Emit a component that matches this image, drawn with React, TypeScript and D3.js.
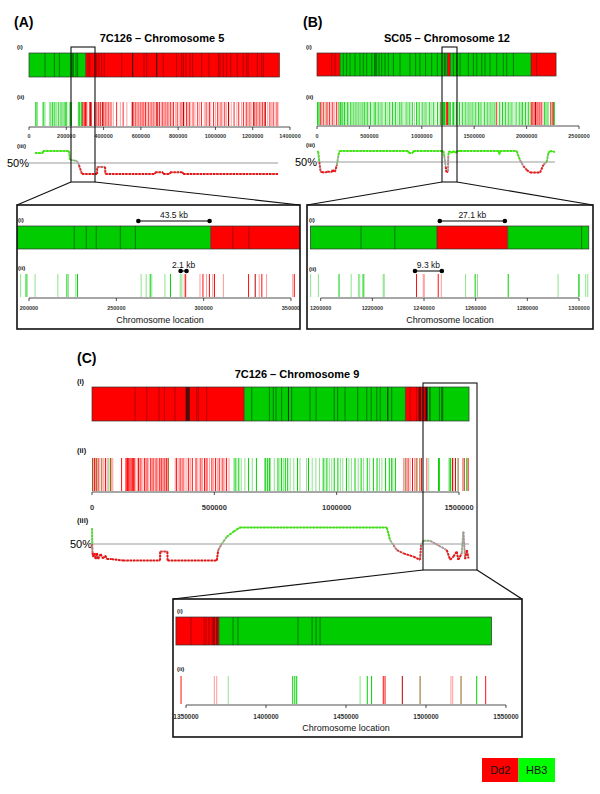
import React from 'react';
import * as d3 from 'd3';

// ---------------- Chromosome 5 (7C126) ----------------
const chr5Breaks = [0, 304000, 1343000];
const chr5Parents = ['HB3', 'Dd2'];
const chr5Dark = [86, 136, 163, 225.9, 232.8, 238.5, 252.3, 260.9, 316.7, 325.9, 363, 375, 390, 404, 497, 617, 631, 720, 792, 819, 828, 842, 864, 878, 926, 965, 1016, 1024, 1042, 1060, 1082, 1117, 1149, 1168, 1176, 1225, 1248, 1257];
const chr5Black = [556, 685];
const chr5SnpGreen = [36, 43, 79, 113, 127, 139, 157, 172, 188, 198.3, 221.7, 227.8, 269.4, 281.0];
const chr5SnpGreenLight = [73, 86, 122, 134, 148, 166, 180, 195.2, 199.0, 203.5, 216.5, 222.6, 226.8, 264.2, 267.1, 270.3, 277.8, 286.6, 287.5];
const chr5SnpRed = [289.7, 299.6, 303.3, 306.2, 325.7, 333.3, 351.9, 360, 372, 384, 398, 412, 425, 440, 470, 505, 556, 570, 585, 600, 612, 625, 640, 655, 670, 686, 700, 715, 730, 745, 760, 775, 795, 815, 828, 845, 860, 880, 905, 925, 950, 968, 990, 1012, 1030, 1050, 1070, 1100, 1125, 1150, 1168, 1185, 1205, 1222, 1238, 1252, 1268, 1292, 1310, 1330];
const chr5SnpRedLight = [288.9, 297.9, 301.6, 305.2, 311.3, 331.8, 336.0, 351.0, 366, 378, 392, 405, 418, 433, 452, 490, 525, 550, 562, 577, 592, 607, 618, 632, 648, 663, 680, 693, 708, 722, 738, 752, 768, 785, 805, 822, 836, 852, 868, 890, 915, 940, 960, 975, 1000, 1020, 1040, 1060, 1085, 1115, 1140, 1160, 1176, 1195, 1215, 1230, 1245, 1260, 1280, 1300, 1320, 1336];
const chr5SnpRedDark = [329.5, 395, 557, 687, 829, 1071, 1207, 1266];
const chr5FreqPos = [32, 75, 75, 215, 220, 257, 268, 284, 365, 366, 408, 410, 676, 677, 719, 720, 756, 757, 826, 827, 1336];
const chr5FreqPct = [88, 88, 96, 96, 62, 58, 42, 8, 8, 35, 35, 8, 8, 14, 14, 8, 8, 14, 14, 8, 8];
const chr5AxisTicks = [0, 200000, 400000, 600000, 800000, 1000000, 1200000, 1400000];
const chr5ZoomTicks = [200000, 250000, 300000, 350000];
const chr5ZoomWindow = [192500, 355500];

// ---------------- Chromosome 12 (SC05) ----------------
const chr12Breaks = [0, 219000, 1245000, 1272400, 2042000, 2281000];
const chr12Parents = ['Dd2', 'HB3', 'Dd2', 'HB3', 'Dd2'];
const chr12Dark = [140, 172, 251, 283, 315, 363, 410, 442, 474, 522, 569, 592, 617, 649, 681, 729, 792, 887, 941, 982, 1036, 1094, 1148, 1215.6, 1228.7, 1301, 1333, 1365, 1444, 1492, 1524, 1572, 1603, 1651, 1715, 1778, 1810, 1874, 2096];
const chr12Black = [553];
const chr12SnpGreen = [5, 20, 210, 225, 240, 262, 290, 318, 345, 372, 400, 430, 455, 480, 510, 545, 560, 590, 620, 655, 690, 720, 750, 785, 810, 850, 880, 910, 950, 975, 1010, 1040, 1075, 1110, 1150, 1180, 1207.1, 1216.4, 1259.8, 1272.6, 1300, 1330, 1360, 1390, 1420, 1450, 1480, 1510, 1540, 1565, 1600, 1630, 1660, 1690, 1740, 1770, 1800, 1830, 1860, 1900, 1935, 1960, 1990, 2020, 2170, 2195, 2265];
const chr12SnpGreenLight = [12, 85, 230, 250, 275, 300, 330, 360, 385, 415, 442, 468, 495, 525, 575, 605, 640, 670, 705, 735, 765, 798, 830, 865, 895, 930, 962, 995, 1025, 1060, 1090, 1125, 1165, 1196.1, 1199.1, 1211.8, 1214.6, 1215.1, 1216.8, 1224.2, 1224.6, 1256.1, 1260.7, 1291.9, 1299.9, 1302.6, 1303.4, 1315, 1345, 1375, 1405, 1435, 1465, 1495, 1525, 1552, 1585, 1615, 1645, 1675, 1705, 1755, 1785, 1815, 1845, 1880, 1920, 1950, 1975, 2005, 2035, 2180, 2210, 2240];
const chr12SnpRed = [35, 60, 95, 120, 150, 185, 1237.1, 1245.5, 1715, 2045, 2060, 2080, 2100, 2120, 2140, 2230, 2255];
const chr12SnpRedLight = [45, 75, 105, 135, 165, 200, 1183, 1239.7, 1240.1, 1246.7, 2052, 2070, 2090, 2110, 2130, 2155];
const chr12SnpRedDark = [2085];
const chr12SnpMixed = [2250];
const chr12FreqPos = [3, 12, 22, 35, 45, 80, 100, 140, 150, 170, 190, 205, 215, 870, 875, 915, 920, 1205, 1215, 1228, 1235, 1250, 1253, 1260, 1285, 1300, 1320, 1340, 1365, 1735, 1740, 1745, 1905, 1937, 1969, 2001, 2033, 2128, 2160, 2192, 2208, 2224, 2271];
const chr12FreqPct = [96, 92, 50, 8, 8, 6, 10, 8, 17, 8, 38, 79, 96, 96, 88, 88, 96, 96, 75, 30, 8, 10, 79, 96, 88, 96, 88, 96, 96, 96, 82, 96, 96, 58, 33, 17, 6, 6, 38, 50, 88, 96, 92];
const chr12AxisTicks = [0, 500000, 1000000, 1500000, 2000000, 2500000];
const chr12ZoomTicks = [1200000, 1220000, 1240000, 1260000, 1280000, 1300000];
const chr12ZoomWindow = [1196000, 1303800];

// ---------------- Chromosome 9 (7C126) ----------------
const chr9Breaks = [0, 622000, 1281000, 1370600, 1541000];
const chr9Parents = ['Dd2', 'HB3', 'Dd2', 'HB3'];
const chr9Dark = [176, 224, 274, 296, 339, 428, 435, 469, 653, 725, 741, 752, 775, 816, 891, 916, 990, 1004, 1034, 1086, 1123, 1141, 1164, 1178, 1225, 1300, 1327, 1353.1, 1361.3, 1362.5, 1364.4, 1366.3, 1379.4, 1382.5, 1420, 1428.8, 1431.3, 1433.8];
const chr9Black = [385, 389, 393, 397, 803, 1209, 1337, 1342, 1367.5, 1369.4];
const chr9SnpGreen = [585, 600, 640, 672, 710, 718, 725, 760, 775, 790, 800, 840, 885, 945, 960, 990, 1005, 1040, 1075, 1100, 1125, 1150, 1165, 1200, 1215, 1225, 1240, 1416.7, 1418, 1419.2, 1463.3, 1466, 1531.7];
const chr9SnpGreenLight = [68, 80, 580, 592, 610, 625, 655, 705, 730, 745, 768, 782, 810, 825, 850, 877, 900, 915, 930, 952, 970, 980, 1015, 1025, 1050, 1060, 1088, 1110, 1135, 1175, 1185, 1230, 1376.4, 1458.8];
const chr9SnpRed = [10, 25, 55, 75, 121, 140, 145, 150, 155, 160, 165, 170, 175, 190, 200, 215, 225, 240, 250, 262, 275, 285, 295, 305, 345, 360, 372, 395, 410, 425, 445, 460, 470, 490, 505, 520, 535, 550, 1292, 1310, 1346.9, 1473.3, 1474.4, 1537.3];
const chr9SnpRedLight = [5, 15, 32, 48, 62, 85, 137, 147, 185, 195, 208, 220, 232, 245, 257, 268, 280, 290, 300, 310, 340, 352, 365, 380, 388, 402, 430, 438, 452, 465, 480, 497, 512, 528, 543, 560, 1273, 1285, 1300, 1318, 1330, 1367.7, 1369.2, 1515.6, 1516.7];
const chr9SnpRedDark = [1485.2];
const chr9SnpMixed = [2, 18, 40, 312, 1280, 1325, 1340, 1496.3, 1521.9];
const chr9FreqPos = [0, 1, 2, 5, 10, 15, 20, 25, 35, 45, 55, 60, 80, 127, 278, 279, 308, 309, 510, 516, 530, 551, 578, 605, 1205, 1218, 1232, 1246, 1273, 1314, 1341, 1345, 1354, 1382, 1450, 1464, 1477, 1491, 1497, 1511, 1518, 1525, 1532, 1539];
const chr9FreqPct = [94, 50, 25, 14, 25, 8, 25, 8, 22, 10, 18, 8, 8, 4, 4, 29, 29, 4, 4, 33, 50, 70, 84, 96, 96, 61, 47, 33, 24, 15, 6, 47, 59, 59, 33, 6, 15, 29, 6, 24, 84, 8, 33, 10];
const chr9AxisTicks = [0, 500000, 1000000, 1500000];
const chr9ZoomTicks = [1350000, 1400000, 1450000, 1500000, 1550000];
const chr9ZoomWindow = [1343700, 1541000];

const legendLabels = ['Dd2', 'HB3'];

// ---------------- styles ----------------
const FONT = '"Liberation Sans", Arial, Helvetica, sans-serif';
const GREEN = '#00cc00';
const RED = '#ff0000';
const parentColor = (p: string) => (p === 'Dd2' ? RED : GREEN);
const darkColor = (p: string) => (p === 'Dd2' ? '#a00000' : '#006400');

type Scale = d3.ScaleLinear<number, number>;

function parentAt(pos: number, breaks: number[], parents: string[]) {
  for (let i = 0; i < parents.length; i++) {
    if (pos >= breaks[i] && pos < breaks[i + 1]) return parents[i];
  }
  return parents[parents.length - 1];
}

function Bar(props: { sx: Scale; y: number; h: number; breaks: number[]; parents: string[]; dark: number[]; black: number[]; lo: number; hi: number }) {
  const { sx, y, h, breaks, parents, dark, black, lo, hi } = props;
  const a = Math.max(breaks[0], lo);
  const b = Math.min(breaks[breaks.length - 1], hi);
  const inside = (k: number) => k * 1000 > a && k * 1000 < b;
  return (
    <g>
      {parents.map((p, i) => {
        const f = Math.max(breaks[i], a);
        const t = Math.min(breaks[i + 1], b);
        if (t <= f) return null;
        return <rect key={'s' + i} x={sx(f)} y={y} width={sx(t) - sx(f)} height={h} fill={parentColor(p)} />;
      })}
      {dark.filter(inside).map((k, i) => (
        <line key={'d' + i} x1={sx(k * 1000)} x2={sx(k * 1000)} y1={y} y2={y + h} stroke={darkColor(parentAt(k * 1000, breaks, parents))} strokeWidth={0.8} />
      ))}
      {black.filter(inside).map((k, i) => (
        <line key={'b' + i} x1={sx(k * 1000)} x2={sx(k * 1000)} y1={y} y2={y + h} stroke="#111" strokeWidth={0.9} />
      ))}
      {breaks.slice(1, -1).filter((v) => v > a && v < b).map((v, i) => (
        <line key={'k' + i} x1={sx(v)} x2={sx(v)} y1={y} y2={y + h} stroke="#333" strokeWidth={0.7} />
      ))}
      <rect x={sx(a)} y={y} width={sx(b) - sx(a)} height={h} fill="none" stroke="#333" strokeWidth={0.7} />
    </g>
  );
}

const TICK_STYLE: Record<string, [string, number]> = {
  G: ['#00d000', 1],
  g: ['#00c000', 0.45],
  R: ['#ff0000', 0.95],
  r: ['#ff0000', 0.4],
  D: ['#b00000', 1],
  B: ['#8a5c10', 0.95],
};

function Ticks(props: { sx: Scale; y0: number; y1: number; lo: number; hi: number; sets: [string, number[]][]; w: number }) {
  const { sx, y0, y1, lo, hi, sets, w } = props;
  return (
    <g>
      {sets.map(([cls, arr]) =>
        arr
          .filter((k) => k * 1000 >= lo && k * 1000 <= hi)
          .map((k, i) => (
            <line key={cls + i} x1={sx(k * 1000)} x2={sx(k * 1000)} y1={y0} y2={y1} stroke={TICK_STYLE[cls][0]} strokeOpacity={TICK_STYLE[cls][1]} strokeWidth={w} />
          ))
      )}
    </g>
  );
}

function freqColor(p: number) {
  if (p >= 50) return d3.interpolateRgb('#a8a8a8', '#33ee00')(Math.min(1, (p - 50) / 30));
  return d3.interpolateRgb('#a8a8a8', '#ee1111')(Math.min(1, (50 - p) / 30));
}

function Freq(props: { sx: Scale; sy: Scale; pos: number[]; pct: number[]; x0: number; x1: number }) {
  const { sx, sy, pos, pct, x0, x1 } = props;
  const pts: [number, number][] = pos.map((k, i) => [sx(k * 1000), sy(pct[i])]);
  const line = d3.line();
  return (
    <g>
      <line x1={x0} x2={x1} y1={sy(50)} y2={sy(50)} stroke="#9a9a9a" strokeWidth={1} />
      <path d={line(pts) || ''} fill="none" stroke="#555" strokeWidth={0.6} />
      {pts.slice(1).map((p, i) => {
        const q = pts[i];
        return (
          <line key={i} x1={q[0]} y1={q[1]} x2={p[0]} y2={p[1]} stroke={freqColor((pct[i] + pct[i + 1]) / 2)} strokeWidth={2} strokeDasharray="2.4 0.9" />
        );
      })}
    </g>
  );
}

function Axis(props: { sx: Scale; y: number; ticks: number[]; fs: number; ly: number; weight?: string }) {
  const { sx, y, ticks, fs, ly, weight } = props;
  return (
    <g>
      <line x1={sx(ticks[0])} x2={sx(ticks[ticks.length - 1])} y1={y} y2={y} stroke="#222" strokeWidth={0.8} />
      {ticks.map((t, i) => (
        <g key={i}>
          <line x1={sx(t)} x2={sx(t)} y1={y} y2={y + 3} stroke="#222" strokeWidth={0.8} />
          <text x={sx(t)} y={ly} fontSize={fs} textAnchor="middle" fontWeight={weight || 'bold'} fill="#333">{t}</text>
        </g>
      ))}
    </g>
  );
}

function Span(props: { sx: Scale; from: number; to: number; y: number; label: string }) {
  const { sx, from, to, y, label } = props;
  return (
    <g>
      <line x1={sx(from)} x2={sx(to)} y1={y} y2={y} stroke="#000" strokeWidth={1} />
      <circle cx={sx(from)} cy={y} r={2.3} fill="#000" />
      <circle cx={sx(to)} cy={y} r={2.3} fill="#000" />
      <text x={(sx(from) + sx(to)) / 2} y={y - 3.5} fontSize={8.5} textAnchor="middle" fill="#111">{label}</text>
    </g>
  );
}

const Lab = (p: { x: number; y: number; t: string; fs?: number }) => (
  <text x={p.x} y={p.y} fontSize={p.fs || 6} fontWeight="bold" fill="#111">{p.t}</text>
);

export default function App() {
  // Panel A
  const sxA = d3.scaleLinear().domain([0, 1400000]).range([29, 290]);
  const syA = d3.scaleLinear().domain([0, 100]).range([176, 150]);
  const sxZA = d3.scaleLinear().domain([200000, 350000]).range([29, 291]);
  // Panel B
  const sxB = d3.scaleLinear().domain([0, 2500000]).range([317, 579]);
  const syB = d3.scaleLinear().domain([0, 100]).range([174, 150]);
  const sxZB = d3.scaleLinear().domain([1200000, 1300000]).range([320.7, 579]);
  // Panel C
  const sxC = d3.scaleLinear().domain([0, 1500000]).range([92, 459]);
  const syC = d3.scaleLinear().domain([0, 100]).range([562, 526]);
  const sxZC = d3.scaleLinear().domain([1350000, 1550000]).range([186, 506]);

  const setsA: [string, number[]][] = [['g', chr5SnpGreenLight], ['G', chr5SnpGreen], ['r', chr5SnpRedLight], ['R', chr5SnpRed], ['D', chr5SnpRedDark]];
  const setsB: [string, number[]][] = [['g', chr12SnpGreenLight], ['G', chr12SnpGreen], ['r', chr12SnpRedLight], ['R', chr12SnpRed], ['D', chr12SnpRedDark], ['B', chr12SnpMixed]];
  const setsC: [string, number[]][] = [['g', chr9SnpGreenLight], ['G', chr9SnpGreen], ['r', chr9SnpRedLight], ['R', chr9SnpRed], ['D', chr9SnpRedDark], ['B', chr9SnpMixed]];

  return (
    <svg width={600} height={794} style={{ position: 'absolute', left: 0, top: 0, background: '#fff' }} fontFamily={FONT}>
      <defs>
        <clipPath id="clipZA"><rect x={17} y={205} width={283} height={124} /></clipPath>
        <clipPath id="clipZB"><rect x={307} y={205} width={286} height={124} /></clipPath>
        <clipPath id="clipZC"><rect x={173} y={599} width={349} height={138} /></clipPath>
      </defs>
      <rect x={0} y={0} width={600} height={794} fill="#fff" />

      {/* ===== Panel A ===== */}
      <text x={14} y={27} fontSize={14} fontWeight="bold">(A)</text>
      <text x={162} y={42} fontSize={11} fontWeight="bold" textAnchor="middle">7C126 – Chromosome 5</text>
      <Lab x={17} y={49} t="(i)" />
      <Bar sx={sxA} y={53} h={24} breaks={chr5Breaks} parents={chr5Parents} dark={chr5Dark} black={chr5Black} lo={0} hi={Infinity} />
      <Lab x={17} y={99} t="(ii)" />
      <Ticks sx={sxA} y0={102} y1={126} lo={0} hi={Infinity} sets={setsA} w={0.9} />
      <Axis sx={sxA} y={127} ticks={chr5AxisTicks} fs={5.5} ly={138} />
      <Lab x={17} y={148} t="(iii)" />
      <text x={29} y={167} fontSize={11} textAnchor="end">50%</text>
      <Freq sx={sxA} sy={syA} pos={chr5FreqPos} pct={chr5FreqPct} x0={29} x1={278} />
      <rect x={71} y={47} width={24} height={135} fill="none" stroke="#111" strokeWidth={1.1} />
      <line x1={71} y1={182} x2={17} y2={205} stroke="#111" strokeWidth={1.1} />
      <line x1={95} y1={182} x2={300} y2={205} stroke="#111" strokeWidth={1.1} />

      {/* Zoom A */}
      <g clipPath="url(#clipZA)">
        <Lab x={18} y={222} t="(i)" />
        <Bar sx={sxZA} y={226} h={23} breaks={chr5Breaks} parents={chr5Parents} dark={chr5Dark} black={chr5Black} lo={chr5ZoomWindow[0]} hi={chr5ZoomWindow[1]} />
        <Span sx={sxZA} from={262600} to={303400} y={221} label="43.5 kb" />
        <Lab x={18} y={270} t="(ii)" />
        <Span sx={sxZA} from={286800} to={290200} y={271} label="2.1 kb" />
        <Ticks sx={sxZA} y0={274} y1={297} lo={chr5ZoomWindow[0]} hi={chr5ZoomWindow[1]} sets={setsA} w={1} />
        <Axis sx={sxZA} y={298} ticks={chr5ZoomTicks} fs={5.5} ly={310} />
        <text x={160} y={323} fontSize={9} textAnchor="middle" fill="#111">Chromosome location</text>
      </g>
      <rect x={17} y={205} width={283} height={124} fill="none" stroke="#111" strokeWidth={1.6} />

      {/* ===== Panel B ===== */}
      <text x={303} y={27} fontSize={14} fontWeight="bold">(B)</text>
      <text x={447} y={42} fontSize={11} fontWeight="bold" textAnchor="middle">SC05 – Chromosome 12</text>
      <Lab x={306} y={49} t="(i)" />
      <Bar sx={sxB} y={53} h={23} breaks={chr12Breaks} parents={chr12Parents} dark={chr12Dark} black={chr12Black} lo={0} hi={Infinity} />
      <Lab x={306} y={99} t="(ii)" />
      <Ticks sx={sxB} y0={102} y1={125} lo={0} hi={Infinity} sets={setsB} w={0.9} />
      <Axis sx={sxB} y={126} ticks={chr12AxisTicks} fs={5.5} ly={138} />
      <Lab x={306} y={147} t="(iii)" />
      <text x={317} y={166} fontSize={11} textAnchor="end">50%</text>
      <Freq sx={sxB} sy={syB} pos={chr12FreqPos} pct={chr12FreqPct} x0={317} x1={555} />
      <rect x={442} y={47} width={15} height={135} fill="none" stroke="#111" strokeWidth={1.1} />
      <line x1={442} y1={182} x2={307} y2={205} stroke="#111" strokeWidth={1.1} />
      <line x1={457} y1={182} x2={593} y2={205} stroke="#111" strokeWidth={1.1} />

      {/* Zoom B */}
      <g clipPath="url(#clipZB)">
        <Lab x={309} y={222} t="(i)" />
        <Bar sx={sxZB} y={226} h={23} breaks={chr12Breaks} parents={chr12Parents} dark={chr12Dark} black={chr12Black} lo={chr12ZoomWindow[0]} hi={chr12ZoomWindow[1]} />
        <Span sx={sxZB} from={1246100} to={1271300} y={221} label="27.1 kb" />
        <Lab x={309} y={271} t="(ii)" />
        <Span sx={sxZB} from={1236500} to={1246900} y={271} label="9.3 kb" />
        <Ticks sx={sxZB} y0={274} y1={297} lo={chr12ZoomWindow[0]} hi={chr12ZoomWindow[1]} sets={setsB} w={1} />
        <Axis sx={sxZB} y={298} ticks={chr12ZoomTicks} fs={5.5} ly={310} />
        <text x={450} y={323} fontSize={9} textAnchor="middle" fill="#111">Chromosome location</text>
      </g>
      <rect x={307} y={205} width={286} height={124} fill="none" stroke="#111" strokeWidth={1.6} />

      {/* ===== Panel C ===== */}
      <text x={77} y={363} fontSize={14} fontWeight="bold">(C)</text>
      <text x={297} y={378} fontSize={11} fontWeight="bold" textAnchor="middle">7C126 – Chromosome 9</text>
      <Lab x={77} y={384} t="(i)" fs={7.5} />
      <Bar sx={sxC} y={387} h={34} breaks={chr9Breaks} parents={chr9Parents} dark={chr9Dark} black={chr9Black} lo={0} hi={Infinity} />
      <Lab x={77} y={453} t="(ii)" fs={7.5} />
      <Ticks sx={sxC} y0={458} y1={491} lo={0} hi={Infinity} sets={setsC} w={1} />
      <Axis sx={sxC} y={492} ticks={chr9AxisTicks} fs={7.5} ly={510} />
      <Lab x={77} y={523} t="(iii)" fs={7.5} />
      <text x={92} y={548} fontSize={11} textAnchor="end">50%</text>
      <Freq sx={sxC} sy={syC} pos={chr9FreqPos} pct={chr9FreqPct} x0={92} x1={469} />
      <rect x={423} y={383} width={54} height={187} fill="none" stroke="#111" strokeWidth={1.1} />
      <line x1={423} y1={570} x2={173} y2={599} stroke="#111" strokeWidth={1.1} />
      <line x1={477} y1={570} x2={522} y2={599} stroke="#111" strokeWidth={1.1} />

      {/* Zoom C */}
      <g clipPath="url(#clipZC)">
        <Lab x={177} y={613} t="(i)" />
        <Bar sx={sxZC} y={617} h={28} breaks={chr9Breaks} parents={chr9Parents} dark={chr9Dark} black={chr9Black} lo={chr9ZoomWindow[0]} hi={chr9ZoomWindow[1]} />
        <Lab x={177} y={671} t="(ii)" />
        <Ticks sx={sxZC} y0={676} y1={704} lo={chr9ZoomWindow[0]} hi={chr9ZoomWindow[1]} sets={setsC} w={1} />
        <Axis sx={sxZC} y={705} ticks={chr9ZoomTicks} fs={6.5} ly={719} />
        <text x={346} y={731} fontSize={9} textAnchor="middle" fill="#111">Chromosome location</text>
      </g>
      <rect x={173} y={599} width={349} height={138} fill="none" stroke="#111" strokeWidth={1.6} />

      {/* Legend */}
      {legendLabels.map((l, i) => (
        <g key={l}>
          <rect x={482 + i * 36.5} y={758} width={36.5} height={24} fill={l === 'Dd2' ? '#ff0000' : '#00ff00'} />
          <text x={482 + i * 36.5 + 18.25} y={774} fontSize={11} textAnchor="middle" fill="#111">{l}</text>
        </g>
      ))}
    </svg>
  );
}
